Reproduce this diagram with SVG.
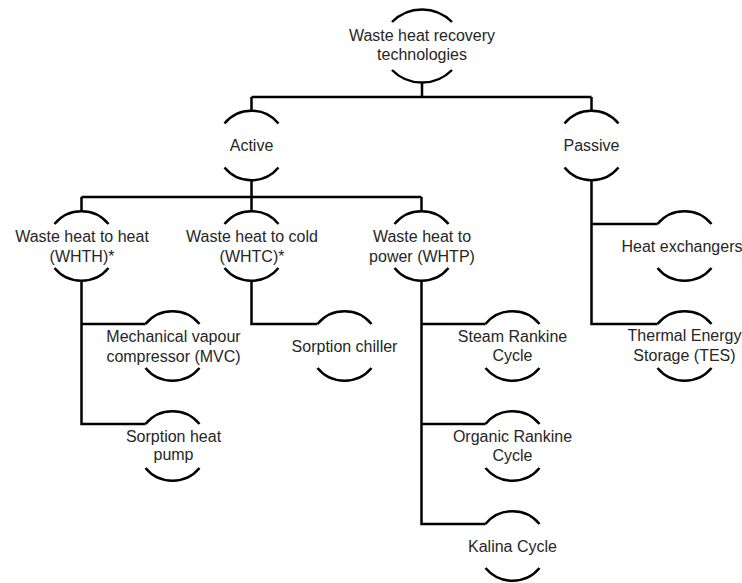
<svg xmlns="http://www.w3.org/2000/svg" width="742" height="583" viewBox="0 0 742 583">
<style>
.arc{fill:none;stroke:#000;stroke-width:2.5;stroke-linecap:butt}
.con{fill:none;stroke:#000;stroke-width:2.5;stroke-linejoin:miter}
text{font-family:"Liberation Sans",Arial,sans-serif;font-size:16px;fill:#262626;text-anchor:middle}
</style>
<rect width="742" height="583" fill="#fff"/>
<g id="connectors">
<path class="con" d="M422,82V97M251.5,97H591.5M251.5,97V110M591.5,97V110"/>
<path class="con" d="M251.5,181V211M81.5,197H421.5M81.5,197V210M421.5,197V210"/>
<path class="con" d="M145.5,424H81.5V282M81.5,324H145.5"/>
<path class="con" d="M251.5,282V324H317.5"/>
<path class="con" d="M485.5,524H421.5V282M421.5,324H485.5M421.5,424H485.5"/>
<path class="con" d="M657.5,324H591.5V181M591.5,224H657.5"/>
</g>
<g id="root">
<path class="arc" d="M392,22A42,42 0 0 1 452,22M392,70A42,42 0 0 0 452,70"/>
<text x="422" y="41">Waste heat recovery</text>
<text x="422" y="60">technologies</text>
</g>
<g id="active">
<path class="arc" d="M224.5,123.5A35,35 0 0 1 278.5,123.5M224.5,167.5A35,35 0 0 0 278.5,167.5"/>
<text x="251.5" y="151">Active</text>
</g>
<g id="passive">
<path class="arc" d="M564.5,123.5A35,35 0 0 1 618.5,123.5M564.5,167.5A35,35 0 0 0 618.5,167.5"/>
<text x="591.5" y="151">Passive</text>
</g>
<g id="whth">
<path class="arc" d="M54.5,224A35,35 0 0 1 108.5,224M54.5,268A35,35 0 0 0 108.5,268"/>
<text x="82" y="241.5">Waste heat to heat</text>
<text x="82" y="262">(WHTH)*</text>
</g>
<g id="whtc">
<path class="arc" d="M224.5,224A35,35 0 0 1 278.5,224M224.5,268A35,35 0 0 0 278.5,268"/>
<text x="252" y="241.5">Waste heat to cold</text>
<text x="252" y="262">(WHTC)*</text>
</g>
<g id="whtp">
<path class="arc" d="M394.5,224A35,35 0 0 1 448.5,224M394.5,268A35,35 0 0 0 448.5,268"/>
<text x="422" y="241.5">Waste heat to</text>
<text x="422" y="262">power (WHTP)</text>
</g>
<g id="heat-exchangers">
<path class="arc" d="M657.5,224A35,35 0 0 1 711.5,224M657.5,268A35,35 0 0 0 711.5,268"/>
<text x="682" y="251.5">Heat exchangers</text>
</g>
<g id="mvc">
<path class="arc" d="M145.5,324A35,35 0 0 1 199.5,324M145.5,368A35,35 0 0 0 199.5,368"/>
<text x="173.5" y="341.5">Mechanical vapour</text>
<text x="173.5" y="361.5">compressor (MVC)</text>
</g>
<g id="sorption-chiller">
<path class="arc" d="M317.5,324A35,35 0 0 1 371.5,324M317.5,368A35,35 0 0 0 371.5,368"/>
<text x="344.5" y="351.5">Sorption chiller</text>
</g>
<g id="steam-rankine">
<path class="arc" d="M485.5,324A35,35 0 0 1 539.5,324M485.5,368A35,35 0 0 0 539.5,368"/>
<text x="512.5" y="341.5">Steam Rankine</text>
<text x="512.5" y="361">Cycle</text>
</g>
<g id="tes">
<path class="arc" d="M657.5,324A35,35 0 0 1 711.5,324M657.5,368A35,35 0 0 0 711.5,368"/>
<text x="684.5" y="341">Thermal Energy</text>
<text x="684.5" y="361">Storage (TES)</text>
</g>
<g id="sorption-heat-pump">
<path class="arc" d="M145.5,424A35,35 0 0 1 199.5,424M145.5,468A35,35 0 0 0 199.5,468"/>
<text x="173.5" y="441.5">Sorption heat</text>
<text x="173.5" y="460">pump</text>
</g>
<g id="organic-rankine">
<path class="arc" d="M485.5,424A35,35 0 0 1 539.5,424M485.5,468A35,35 0 0 0 539.5,468"/>
<text x="512.5" y="441.5">Organic Rankine</text>
<text x="512.5" y="461">Cycle</text>
</g>
<g id="kalina">
<path class="arc" d="M485.5,524A35,35 0 0 1 539.5,524M485.5,568A35,35 0 0 0 539.5,568"/>
<text x="512.5" y="551.5">Kalina Cycle</text>
</g>
</svg>
